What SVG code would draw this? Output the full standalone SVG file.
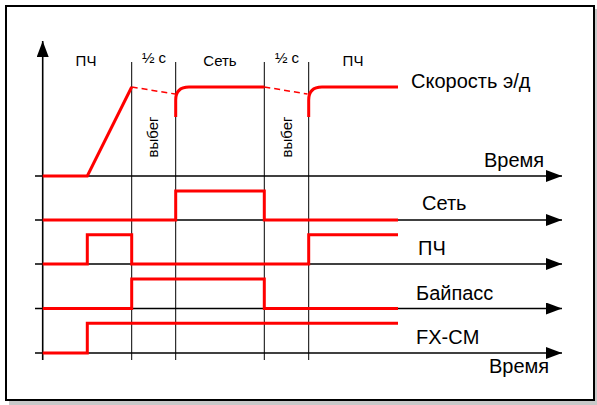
<svg xmlns="http://www.w3.org/2000/svg" width="597" height="405" viewBox="0 0 597 405">
<defs>
<style>
.axis{stroke:#000;stroke-width:1.6;fill:none}
.grid{stroke:#000;stroke-width:1;fill:none}
.sig{stroke:#ff0000;stroke-width:3;fill:none;stroke-linejoin:miter}
.dash{stroke:#ff0000;stroke-width:1.5;fill:none;stroke-dasharray:6 4}
.big{font-family:"Liberation Sans",Arial,sans-serif;font-size:20px;fill:#000}
.small{font-family:"Liberation Sans",Arial,sans-serif;font-size:15px;fill:#000}
</style>
<marker id="arr" viewBox="0 0 16 12" refX="16" refY="6" markerWidth="16" markerHeight="12" markerUnits="userSpaceOnUse" orient="auto">
<path d="M0,0 L16,6 L0,12 Z" fill="#000"/>
</marker>
</defs>
<rect x="9" y="9" width="588" height="396" fill="#c8c8c8"/>
<rect x="6" y="6" width="588" height="394" fill="#fff" stroke="#000" stroke-width="2"/>

<g id="grid">
<line class="grid" x1="131.7" y1="62" x2="131.7" y2="360"/>
<line class="grid" x1="175.7" y1="62" x2="175.7" y2="360" stroke="#777"/>
<line class="grid" x1="264.3" y1="62" x2="264.3" y2="360"/>
<line class="grid" x1="308.7" y1="62" x2="308.7" y2="360"/>
</g>

<g id="axes">
<line class="axis" x1="42.7" y1="360" x2="42.7" y2="41" marker-end="url(#arr)"/>
<line class="axis" x1="35" y1="176" x2="562" y2="176" marker-end="url(#arr)"/>
<line class="axis" x1="35" y1="220" x2="562" y2="220" marker-end="url(#arr)"/>
<line class="axis" x1="35" y1="264" x2="562" y2="264" marker-end="url(#arr)"/>
<line class="axis" x1="35" y1="308.5" x2="562" y2="308.5" marker-end="url(#arr)"/>
<line class="axis" x1="35" y1="353" x2="562" y2="353" marker-end="url(#arr)"/>
</g>

<g id="speed">
<path class="sig" d="M42.7,176 L87.3,176 L131.7,87"/>
<path class="dash" d="M131.7,87 L175,94"/>
<path class="sig" d="M175.7,117 L175.7,100 Q175.7,87 189,87 L264.3,87"/>
<path class="dash" d="M264.3,87 L307.5,94"/>
<path class="sig" d="M308.7,117 L308.7,100 Q308.7,87 322,87 L398,87"/>
</g>

<g id="set">
<path class="sig" d="M42.7,220 L175.7,220 L175.7,191 L264.3,191 L264.3,220 L398,220"/>
</g>
<g id="pch">
<path class="sig" d="M42.7,264 L87.3,264 L87.3,234.7 L131.7,234.7 L131.7,264 L308.7,264 L308.7,234.7 L398,234.7"/>
</g>
<g id="bypass">
<path class="sig" d="M42.7,308.5 L131.7,308.5 L131.7,279 L264.3,279 L264.3,308.5 L398,308.5"/>
</g>
<g id="fxcm">
<path class="sig" d="M42.7,353 L87.3,353 L87.3,323.3 L398,323.3"/>
</g>

<g id="labels">
<text class="small" x="86" y="66" text-anchor="middle">ПЧ</text>
<text class="small" x="154" y="63" text-anchor="middle">½ с</text>
<text class="small" x="220" y="66" text-anchor="middle">Сеть</text>
<text class="small" x="287" y="63" text-anchor="middle">½ с</text>
<text class="small" x="353" y="66" text-anchor="middle">ПЧ</text>
<text class="small" transform="translate(158,137) rotate(-90)" text-anchor="middle">выбег</text>
<text class="small" transform="translate(292,137) rotate(-90)" text-anchor="middle">выбег</text>
<text class="big" x="411" y="88">Скорость э/д</text>
<text class="big" x="484" y="167">Время</text>
<text class="big" x="422" y="210">Сеть</text>
<text class="big" x="418" y="255">ПЧ</text>
<text class="big" x="416" y="300">Байпасс</text>
<text class="big" x="416" y="344">FX-CM</text>
<text class="big" x="489" y="373">Время</text>
</g>
</svg>
